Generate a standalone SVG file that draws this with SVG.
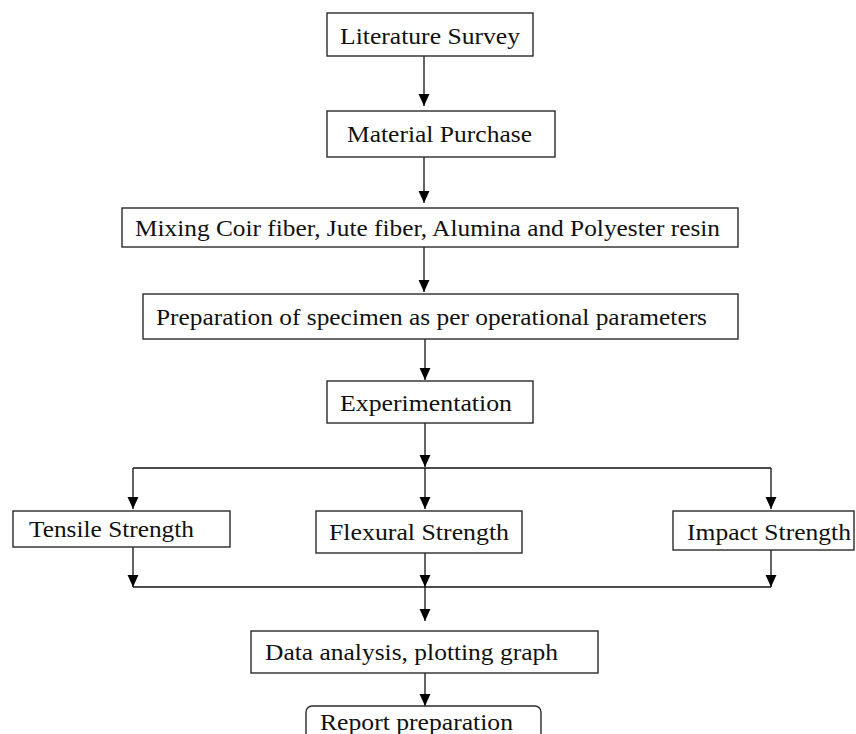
<svg xmlns="http://www.w3.org/2000/svg" width="856" height="734" viewBox="0 0 856 734">
<defs>
<marker id="ah" markerUnits="userSpaceOnUse" markerWidth="12" markerHeight="12" refX="11" refY="5" orient="auto" viewBox="0 0 11 10">
<path d="M0,0 L11,5 L0,10 Z" fill="#000"/>
</marker>
<style>
.box{fill:#fff;stroke:#2a2a2a;stroke-width:1.4}
.t{font-family:"Liberation Serif","Times New Roman",serif;font-size:23px;fill:#111}
.c{fill:none;stroke:#111;stroke-width:1.3}
.a{marker-end:url(#ah)}
</style>
</defs>
<rect width="856" height="734" fill="#fff"/>
<g id="connectors">
<line class="c a" x1="424" y1="56" x2="424" y2="106"/>
<line class="c a" x1="424" y1="157" x2="424" y2="203"/>
<line class="c a" x1="424" y1="247" x2="424" y2="292"/>
<line class="c a" x1="425" y1="339" x2="425" y2="380"/>
<line class="c a" x1="425" y1="423" x2="425" y2="467"/>
<line class="c" x1="133" y1="468" x2="771" y2="468"/>
<line class="c a" x1="133" y1="468" x2="133" y2="509"/>
<line class="c a" x1="425" y1="468" x2="425" y2="509"/>
<line class="c a" x1="771" y1="468" x2="771" y2="509"/>
<line class="c a" x1="133" y1="547" x2="133" y2="587"/>
<line class="c a" x1="425" y1="553" x2="425" y2="587"/>
<line class="c a" x1="771" y1="550" x2="771" y2="587"/>
<line class="c" x1="133" y1="587" x2="771" y2="587"/>
<line class="c a" x1="425" y1="587" x2="425" y2="621"/>
<line class="c a" x1="425" y1="673" x2="425" y2="706"/>
</g>
<g id="literature-survey">
<rect class="box" x="327" y="13" width="206" height="43"/>
<text class="t" x="340" y="44" textLength="180" lengthAdjust="spacingAndGlyphs">Literature Survey</text>
</g>
<g id="material-purchase">
<rect class="box" x="327" y="111" width="228" height="46"/>
<text class="t" x="347" y="142" textLength="185" lengthAdjust="spacingAndGlyphs">Material Purchase</text>
</g>
<g id="mixing">
<rect class="box" x="122" y="208" width="616" height="39"/>
<text class="t" x="135" y="236" textLength="585" lengthAdjust="spacingAndGlyphs">Mixing Coir fiber, Jute fiber, Alumina and Polyester resin</text>
</g>
<g id="preparation">
<rect class="box" x="143" y="294" width="595" height="45"/>
<text class="t" x="156" y="325" textLength="551" lengthAdjust="spacingAndGlyphs">Preparation of specimen as per operational parameters</text>
</g>
<g id="experimentation">
<rect class="box" x="327" y="381" width="206" height="42"/>
<text class="t" x="340" y="411" textLength="172" lengthAdjust="spacingAndGlyphs">Experimentation</text>
</g>
<g id="tensile-strength">
<rect class="box" x="13" y="511" width="217" height="36"/>
<text class="t" x="29" y="537" textLength="165" lengthAdjust="spacingAndGlyphs">Tensile Strength</text>
</g>
<g id="flexural-strength">
<rect class="box" x="316" y="511" width="206" height="42"/>
<text class="t" x="329" y="540" textLength="180" lengthAdjust="spacingAndGlyphs">Flexural Strength</text>
</g>
<g id="impact-strength">
<rect class="box" x="673" y="511" width="181" height="39"/>
<text class="t" x="687" y="540" textLength="164" lengthAdjust="spacingAndGlyphs">Impact Strength</text>
</g>
<g id="data-analysis">
<rect class="box" x="251" y="631" width="347" height="42"/>
<text class="t" x="265" y="660" textLength="293" lengthAdjust="spacingAndGlyphs">Data analysis, plotting graph</text>
</g>
<g id="report-preparation">
<rect class="box" x="306" y="706" width="235" height="60" rx="6"/>
<text class="t" x="320" y="730" textLength="193" lengthAdjust="spacingAndGlyphs">Report preparation</text>
</g>
</svg>
